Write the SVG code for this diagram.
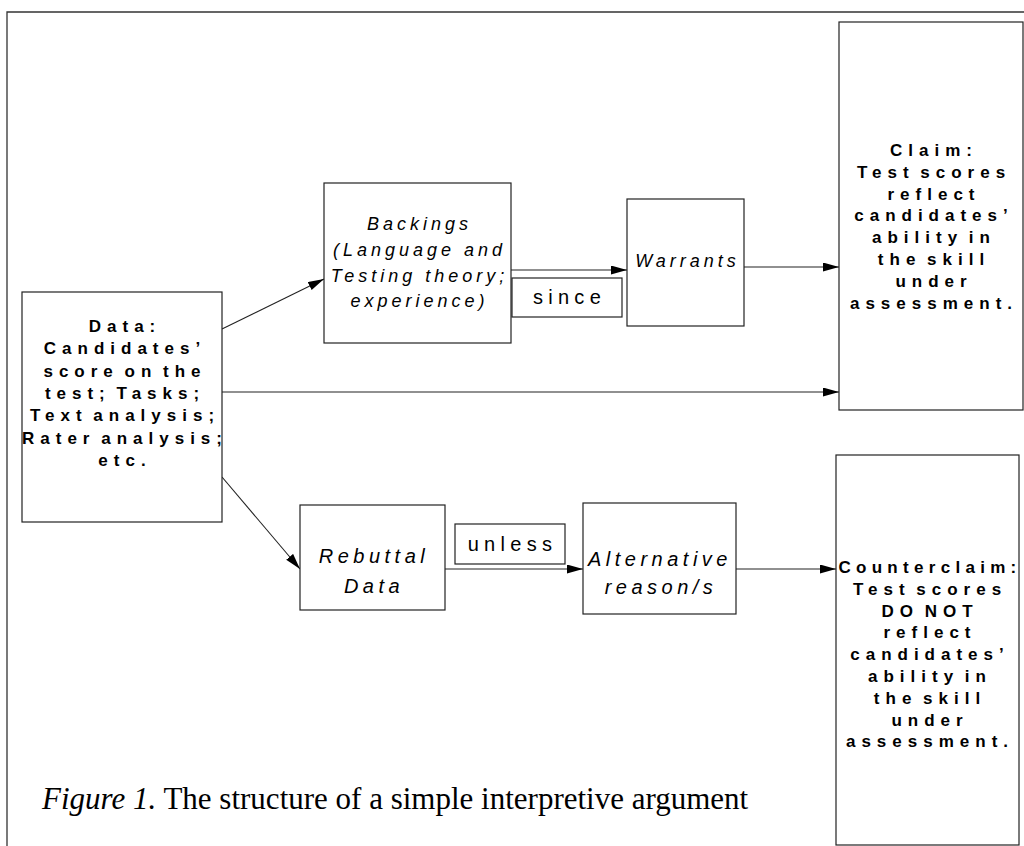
<svg xmlns="http://www.w3.org/2000/svg" width="1024" height="846" viewBox="0 0 1024 846">
<defs>
<marker id="ah" markerUnits="userSpaceOnUse" markerWidth="17" markerHeight="10" refX="16" refY="4.5" orient="auto">
<path d="M0,0 L16,4.5 L0,9 z" fill="#000"/>
</marker>
<style>
.box{fill:#fff;stroke:#222;stroke-width:1.2}
.frame{fill:none;stroke:#333;stroke-width:1.3}
.edge{fill:none;stroke:#222;stroke-width:1.1;marker-end:url(#ah)}
.b{font-family:"Liberation Sans",Arial,sans-serif;font-weight:bold;font-size:17px;letter-spacing:6px;word-spacing:-5px;text-anchor:middle;fill:#000}
.i{font-family:"Liberation Sans",Arial,sans-serif;font-style:italic;font-size:18px;letter-spacing:4px;text-anchor:middle;fill:#000}
.i2{font-family:"Liberation Sans",Arial,sans-serif;font-style:italic;font-size:20px;letter-spacing:4.5px;text-anchor:middle;fill:#000}
.r{font-family:"Liberation Sans",Arial,sans-serif;font-size:20px;letter-spacing:5.3px;text-anchor:middle;fill:#000}
.cap{font-family:"Liberation Serif","Times New Roman",serif;font-size:31px;fill:#000}
</style>
</defs>
<g id="frame">
<path class="frame" d="M7,846 L7,12 L1024,12"/>
</g>
<g id="connectors">
<line class="edge" x1="222" y1="329" x2="324" y2="279"/>
<line class="edge" x1="511" y1="270" x2="627" y2="270"/>
<line class="edge" x1="744" y1="267" x2="839" y2="267"/>
<line class="edge" x1="222" y1="392" x2="839" y2="392"/>
<line class="edge" x1="222" y1="477" x2="300" y2="569"/>
<line class="edge" x1="445" y1="569" x2="583" y2="569"/>
<line class="edge" x1="736" y1="569" x2="836" y2="569"/>
</g>
<g id="data">
<rect class="box" x="22" y="292" width="200" height="230"/>
<text class="b"><tspan x="125" y="332">Data:</tspan><tspan x="125" y="354.3">Candidates’</tspan><tspan x="125" y="376.6">score on the</tspan><tspan x="125" y="398.9">test; Tasks;</tspan><tspan x="125" y="421.2">Text analysis;</tspan><tspan x="125" y="443.5">Rater analysis;</tspan><tspan x="125" y="465.8">etc.</tspan></text>
</g>
<g id="backings">
<rect class="box" x="324" y="183" width="187" height="160"/>
<text class="i"><tspan x="419.5" y="230">Backings</tspan><tspan x="419.5" y="256">(Language and</tspan><tspan x="419.5" y="282">Testing theory;</tspan><tspan x="419.5" y="307">experience)</tspan></text>
</g>
<g id="since">
<rect class="box" x="512" y="278" width="110" height="39"/>
<text class="r" x="569.5" y="304">since</text>
</g>
<g id="warrants">
<rect class="box" x="627" y="199" width="117" height="127"/>
<text class="i" x="687.5" y="267">Warrants</text>
</g>
<g id="claim">
<rect class="box" x="839" y="22" width="184" height="388"/>
<text class="b"><tspan x="934" y="156">Claim:</tspan><tspan x="934" y="177.8">Test scores</tspan><tspan x="934" y="199.6">reflect</tspan><tspan x="934" y="221.4">candidates’</tspan><tspan x="934" y="243.2">ability in</tspan><tspan x="934" y="265">the skill</tspan><tspan x="934" y="286.8">under</tspan><tspan x="934" y="308.6">assessment.</tspan></text>
</g>
<g id="rebuttal">
<rect class="box" x="300" y="505" width="145" height="105"/>
<text class="i2"><tspan x="374" y="563">Rebuttal</tspan><tspan x="374" y="593">Data</tspan></text>
</g>
<g id="unless">
<rect class="box" x="455" y="524" width="110" height="40"/>
<text class="r" x="512.5" y="551">unless</text>
</g>
<g id="alternative">
<rect class="box" x="583" y="503" width="153" height="111"/>
<text class="i2"><tspan x="660" y="566">Alternative</tspan><tspan x="661" y="594">reason/s</tspan></text>
</g>
<g id="counterclaim">
<rect class="box" x="836" y="455" width="183" height="390"/>
<text class="b"><tspan x="930" y="573" letter-spacing="5.3">Counterclaim:</tspan><tspan x="930" y="594.8">Test scores</tspan><tspan x="930" y="616.6">DO NOT</tspan><tspan x="930" y="638.4">reflect</tspan><tspan x="930" y="660.2">candidates’</tspan><tspan x="930" y="682">ability in</tspan><tspan x="930" y="703.8">the skill</tspan><tspan x="930" y="725.6">under</tspan><tspan x="930" y="747.4">assessment.</tspan></text>
</g>
<g id="caption">
<text class="cap" x="42" y="809"><tspan font-style="italic">Figure 1.</tspan> The structure of a simple interpretive argument</text>
</g>
</svg>
